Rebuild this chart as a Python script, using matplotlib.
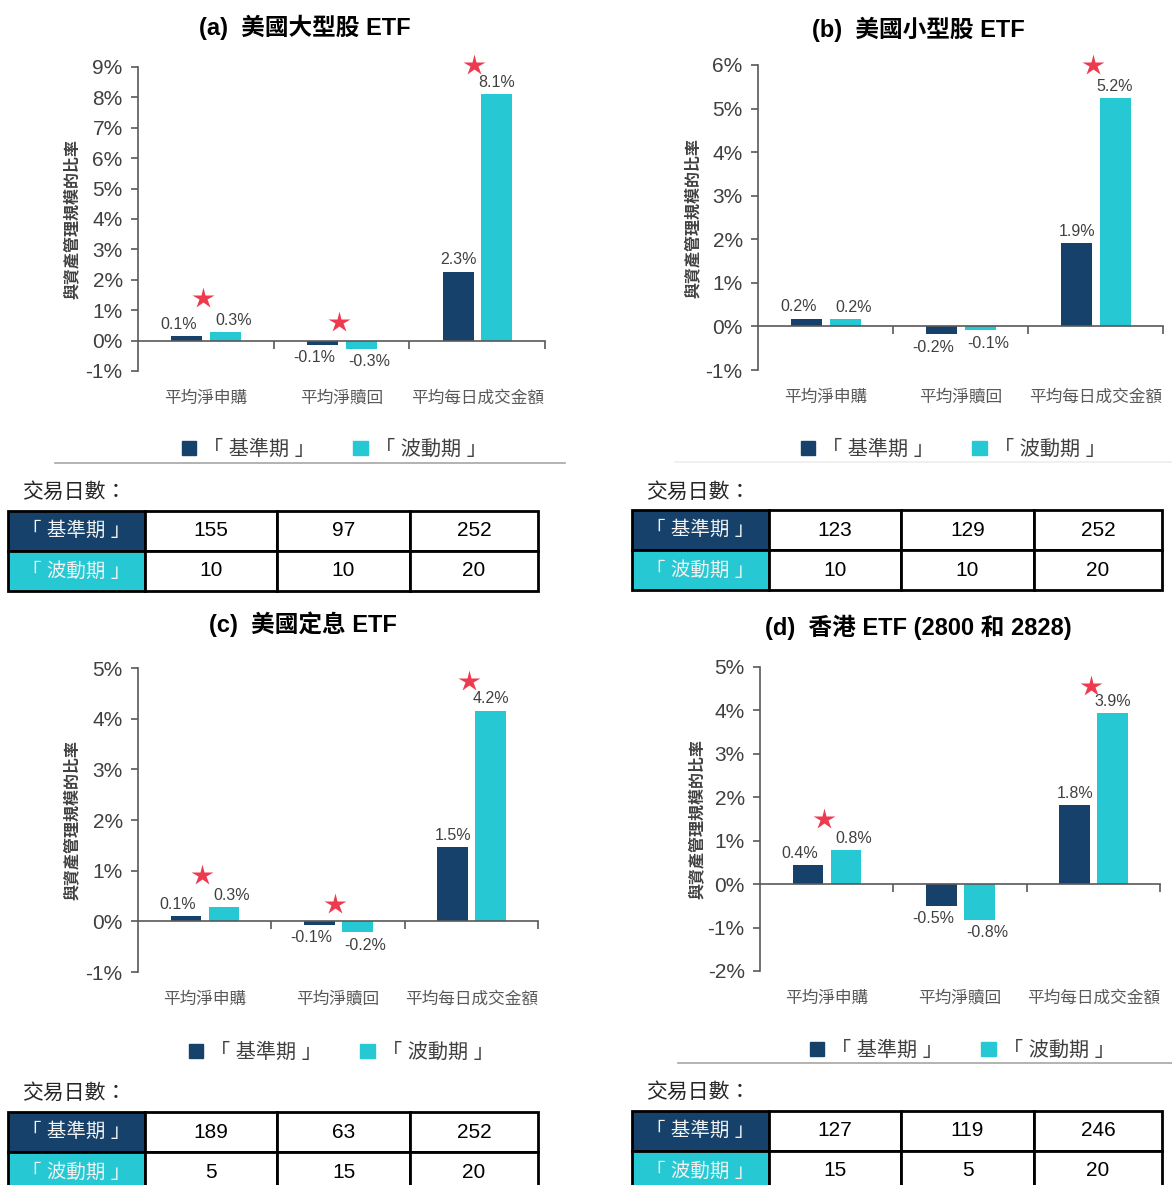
import matplotlib
matplotlib.use('Agg')
import matplotlib.pyplot as plt
from matplotlib.patches import Patch
import matplotlib.transforms as mtransforms

plt.rcParams['font.family'] = ['Liberation Sans', 'Noto Sans CJK TC']

W, H = 1172, 1185

# data
categories = ['平均淨申購', '平均淨贖回', '平均每日成交金額']
series_names = ['「 基準期 」', '「 波動期 」']
ylabel = '與資產管理規模的比率'
days_title = '交易日數：'

titles = ['(a)  美國大型股 ETF', '(b)  美國小型股 ETF',
          '(c)  美國定息 ETF', '(d)  香港 ETF (2800 和 2828)']

base_a = [0.14, -0.14, 2.27]
vol_a = [0.28, -0.26, 8.12]
star_a = [1.4, 0.6, 9.07]

base_b = [0.18, -0.18, 1.91]
vol_b = [0.16, -0.09, 5.24]
star_b = [None, None, 6.0]

base_c = [0.10, -0.07, 1.46]
vol_c = [0.28, -0.22, 4.16]
star_c = [0.91, 0.34, 4.75]

base_d = [0.44, -0.50, 1.82]
vol_d = [0.78, -0.82, 3.94]
star_d = [1.5, None, 4.56]

ylims = [(-1, 9), (-1, 6), (-1, 5), (-2, 5)]

days_a = [[155, 97, 252], [10, 10, 20]]
days_b = [[123, 129, 252], [10, 10, 20]]
days_c = [[189, 63, 252], [5, 15, 20]]
days_d = [[127, 119, 246], [15, 5, 20]]

NAVY = '#15416B'
CYAN = '#26C9D3'
STAR = '#EE3A4F'
GREY = '#404040'


def box(l, t, r, b):
    return [l / W, 1 - b / H, (r - l) / W, (b - t) / H]


fig = plt.figure(figsize=(W / 100, H / 100), dpi=100)

panels = [
    dict(data=(base_a, vol_a, star_a), days=days_a, ax=(138, 67, 545, 371),
         title=(305, 27), ylab=72, leg=(188, 449), line=(55, 565, 463, '#A6A6A6'),
         dlabel=(22, 492), tbl=(8, 511, 538, 591)),
    dict(data=(base_b, vol_b, star_b), days=days_b, ax=(758, 65, 1163, 370),
         title=(918, 29), ylab=693, leg=(807, 449), line=(675, 1172, 462, '#EDEDED'),
         dlabel=(646, 492), tbl=(632, 510, 1162, 590)),
    dict(data=(base_c, vol_c, star_c), days=days_c, ax=(138, 668, 538, 972),
         title=(303, 624), ylab=72, leg=(195, 1052), line=None,
         dlabel=(22, 1093), tbl=(8, 1112, 538, 1192)),
    dict(data=(base_d, vol_d, star_d), days=days_d, ax=(760, 667, 1160, 971),
         title=(918, 627), ylab=697, leg=(816, 1050), line=(678, 1172, 1063, '#A6A6A6'),
         dlabel=(646, 1092), tbl=(632, 1111, 1162, 1191)),
]

x = list(range(len(categories)))
width = 0.23
offs = [-0.14, 0.145]

for k, p in enumerate(panels):
    l, t, r, b = p['ax']
    ax = fig.add_axes(box(l, t, r, b))
    base, vol, star = p['data']

    for s, (vals, col) in enumerate(zip((base, vol), (NAVY, CYAN))):
        xs = [i + offs[s] for i in x]
        ax.bar(xs, vals, width=width, color=col, zorder=2)
        for i, v in enumerate(vals):
            nudge = 0 if i == 2 else (-0.06 if s == 0 else 0.06)
            ax.annotate(f'{v:.1f}%', (xs[i] + nudge, v),
                        xytext=(0, 3 if v >= 0 else -4), textcoords='offset points',
                        ha='center', va='bottom' if v >= 0 else 'top',
                        fontsize=11.5, color=GREY)

    for i, sv in enumerate(star):
        if sv is not None:
            ax.plot(i - 0.02, sv, marker='*', ms=16, color=STAR, mec='none',
                    zorder=3, clip_on=False)

    lo, hi = ylims[k]
    ax.set_ylim(lo, hi)
    ax.set_xlim(-0.5, 2.5)
    ax.set_yticks(range(lo, hi + 1))
    ax.set_yticklabels([f'{v}%' for v in range(lo, hi + 1)])
    ax.set_xticks([0.5, 1.5, 2.5])
    ax.set_xticklabels([])
    ax.spines['top'].set_visible(False)
    ax.spines['right'].set_visible(False)
    ax.spines['bottom'].set_position(('data', 0))
    for sp in ('left', 'bottom'):
        ax.spines[sp].set_color('#595959')
        ax.spines[sp].set_linewidth(1.2)
    ax.tick_params(axis='y', length=5, width=1.2, color='#595959',
                   labelsize=15, labelcolor=GREY, pad=6)
    ax.tick_params(axis='x', length=6, width=1.2, color='#595959', direction='out')
    ax.set_facecolor('none')

    trans = mtransforms.blended_transform_factory(ax.transData, ax.transAxes)
    for i, c in enumerate(categories):
        ax.text(i, -27 / (b - t), c, transform=trans, ha='center', va='center',
                fontsize=12, color='#595959')

    fig.text(p['title'][0] / W, 1 - p['title'][1] / H, titles[k],
             ha='center', va='center', fontsize=17, fontweight='bold')
    fig.text(p['ylab'] / W, 1 - ((t + b) / 2) / H, ylabel, rotation=90,
             ha='center', va='center', fontsize=11.5, fontweight='bold', color=GREY)

    handles = [Patch(color=NAVY), Patch(color=CYAN)]
    lx, ly = p['leg']
    fig.legend(handles, series_names, loc='center left',
               bbox_to_anchor=((lx - 24) / W, 1 - ly / H), ncol=2, frameon=False,
               handlelength=0.7, handleheight=0.7, handletextpad=0.35,
               columnspacing=1.9, fontsize=14.5, labelcolor=GREY)

    if p['line'] is not None:
        x0, x1, yl, lc = p['line']
        fig.add_artist(plt.Line2D([x0 / W, x1 / W], [1 - yl / H] * 2,
                                  transform=fig.transFigure, color=lc, lw=1.2))

    fig.text(p['dlabel'][0] / W, 1 - p['dlabel'][1] / H, days_title,
             ha='left', va='center', fontsize=15, color='#262626')

    tl, tt, tr, tb = p['tbl']
    tax = fig.add_axes(box(tl, tt, tr, tb))
    tax.axis('off')
    cells = [[series_names[0]] + [str(v) for v in p['days'][0]],
             [series_names[1]] + [str(v) for v in p['days'][1]]]
    colours = [[NAVY, 'white', 'white', 'white'], [CYAN, 'white', 'white', 'white']]
    tbl = tax.table(cellText=cells, cellColours=colours, cellLoc='center',
                    colWidths=[137, 132, 133, 128], bbox=[0, 0, 1, 1])
    tbl.auto_set_font_size(False)
    for (ri, ci), cell in tbl.get_celld().items():
        cell.set_edgecolor('black')
        cell.set_linewidth(2)
        if ci == 0:
            cell.get_text().set_color('#F2F2F2')
            cell.get_text().set_fontsize(14)
        else:
            cell.get_text().set_color('black')
            cell.get_text().set_fontsize(15)

fig.savefig('out.png', dpi=100)
